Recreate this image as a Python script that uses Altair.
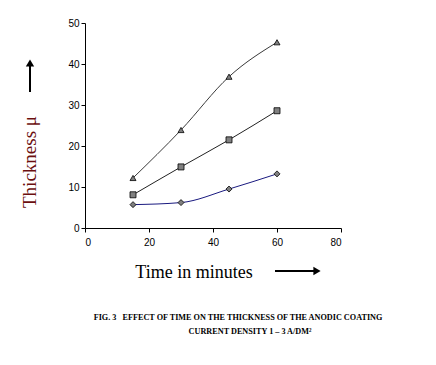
import altair as alt
import pandas as pd

time_min = [15, 30, 45, 60]
series_names = ["high", "mid", "low"]
thick_high = [12.2, 23.9, 36.9, 45.3]
thick_mid = [8.1, 14.9, 21.5, 28.6]
thick_low = [5.7, 6.2, 9.5, 13.2]
x_ticks = [0, 20, 40, 60, 80]
y_ticks = [0, 10, 20, 30, 40, 50]

rows = []
for name, vals in zip(series_names, [thick_high, thick_mid, thick_low]):
    for t, v in zip(time_min, vals):
        rows.append({"time": t, "thickness": v, "series": name})
df = pd.DataFrame(rows)

xs = alt.Scale(domain=[0, 80], nice=False)
ys = alt.Scale(domain=[0, 50], nice=False)
X = alt.X("time:Q", scale=xs, axis=alt.Axis(values=x_ticks, title=None))
Y = alt.Y("thickness:Q", scale=ys, axis=alt.Axis(values=y_ticks, title=None))

color = alt.Color("series:N", scale=alt.Scale(domain=series_names, range=["#3a3a3a", "#222222", "#1a1a80"]), legend=None)
shape = alt.Shape("series:N", scale=alt.Scale(domain=series_names, range=["triangle-up", "square", "diamond"]), legend=None)

base = alt.Chart(df)
lines = base.mark_line(interpolate="monotone", strokeWidth=1).encode(x=X, y=Y, color=color, detail="series:N")
points = base.mark_point(filled=True, fill="#808080", stroke="#000000", strokeWidth=0.8, size=36, opacity=1).encode(
    x=X, y=Y, shape=shape)

one = alt.Chart(pd.DataFrame({"a": [0]}))
up_shaft = one.mark_rule(color="black", strokeWidth=2).encode(x=alt.value(-55), y=alt.value(69), y2=alt.value(42))
up_head = one.mark_point(shape="triangle-up", filled=True, color="black", size=70, opacity=1).encode(x=alt.value(-55), y=alt.value(40))
rt_shaft = one.mark_rule(color="black", strokeWidth=2).encode(x=alt.value(190), x2=alt.value(230), y=alt.value(248))
rt_head = one.mark_point(shape="triangle-right", filled=True, color="black", size=70, opacity=1).encode(x=alt.value(232), y=alt.value(248))

NB = "\u00a0"
ytitle = one.mark_text(font="Liberation Serif", fontSize=19, color="#6b0f0f", angle=270, align="center", baseline="middle").encode(
    x=alt.value(-55), y=alt.value(139), text=alt.value("Thickness μ"))
xtitle = one.mark_text(font="Liberation Serif", fontSize=18, color="black", align="center", baseline="middle").encode(
    x=alt.value(109), y=alt.value(250), text=alt.value("Time in minutes"))
cap1 = one.mark_text(font="Liberation Serif", fontSize=8.2, fontWeight="bold", color="black", align="center", baseline="middle").encode(
    x=alt.value(153), y=alt.value(295), text=alt.value("FIG. 3" + NB * 3 + "EFFECT OF TIME ON THE THICKNESS OF THE ANODIC COATING"))
cap2 = one.mark_text(font="Liberation Serif", fontSize=8.2, fontWeight="bold", color="black", align="center", baseline="middle").encode(
    x=alt.value(165), y=alt.value(309), text=alt.value("CURRENT DENSITY 1 – 3 A/DM²"))

chart = alt.layer(lines, points, up_shaft, up_head, rt_shaft, rt_head, ytitle, xtitle, cap1, cap2).properties(
    width=256, height=205,
    autosize=alt.AutoSizeParams(type="none"),
    padding={"left": 77, "top": 15, "right": 80, "bottom": 125},
).configure_view(stroke=None).configure_axis(
    grid=False, domainColor="black", tickColor="black", labelColor="black",
    labelFont="Liberation Sans", labelFontSize=10, tickSize=4, domainWidth=1, tickWidth=1,
).configure_axisX(labelPadding=5).configure_axisY(labelPadding=2)

chart.save("out.html", embed_options={"renderer": "svg", "actions": False})
